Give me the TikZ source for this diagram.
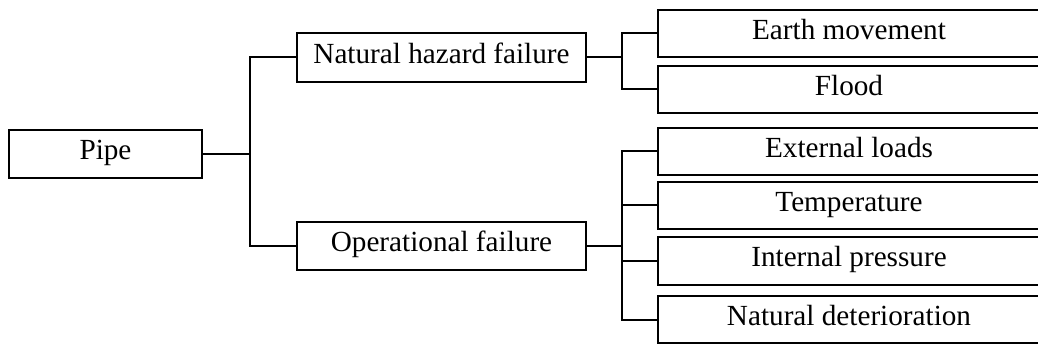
\documentclass[tikz,border=0pt]{standalone}
\usepackage{fontspec}
\setmainfont{Liberation Serif}
\usetikzlibrary{positioning}

\begin{document}
\begin{tikzpicture}
  [x=0.5pt, y=-0.5pt, line width=1pt,
   every node/.style = {draw, line width=1pt, inner sep=0pt, align=center,
     font=\fontsize{14.6pt}{17pt}\selectfont, text height=9.6pt, text depth=4pt},
   causebox/.style = {minimum width=144.5pt, minimum height=24.25pt},
   leafbox/.style = {minimum width=191pt, minimum height=23.5pt}]
  \useasboundingbox (0,0) rectangle (1038,347);
  \node (pipe) [minimum width=96.5pt, minimum height=24pt] at (105.5,154) {Pipe};
  \node (nhf) [causebox] at (441.5,57.5) {Natural hazard failure};
  \node (opf) [causebox] at (441.5,246) {Operational failure};
  \node (earth) [leafbox] at (849,33.5) {Earth movement};
  \node (flood) [leafbox] at (849,89.5) {Flood};
  \node (loads) [leafbox] at (849,151.5) {External loads};
  \node (temp) [leafbox] at (849,205.5) {Temperature};
  \node (press) [leafbox] at (849,261) {Internal pressure};
  \node (decay) [leafbox] at (849,319.5) {Natural deterioration};
  % pipe to the two failure groups
  \draw (pipe.east) -- ++(47,0) |- (nhf.west);
  \draw (pipe.east) -- ++(47,0) |- (opf.west);
  % natural hazards
  \draw (nhf.east) -- ++(35,0) |- (earth.west);
  \draw (nhf.east) -- ++(35,0) |- (flood.west);
  % operational causes
  \draw (opf.east) -- ++(35,0) |- (loads.west);
  \draw (opf.east) -- ++(35,0) |- (temp.west);
  \draw (opf.east) -- ++(35,0) |- (press.west);
  \draw (opf.east) -- ++(35,0) |- (decay.west);
\end{tikzpicture}
\end{document}
